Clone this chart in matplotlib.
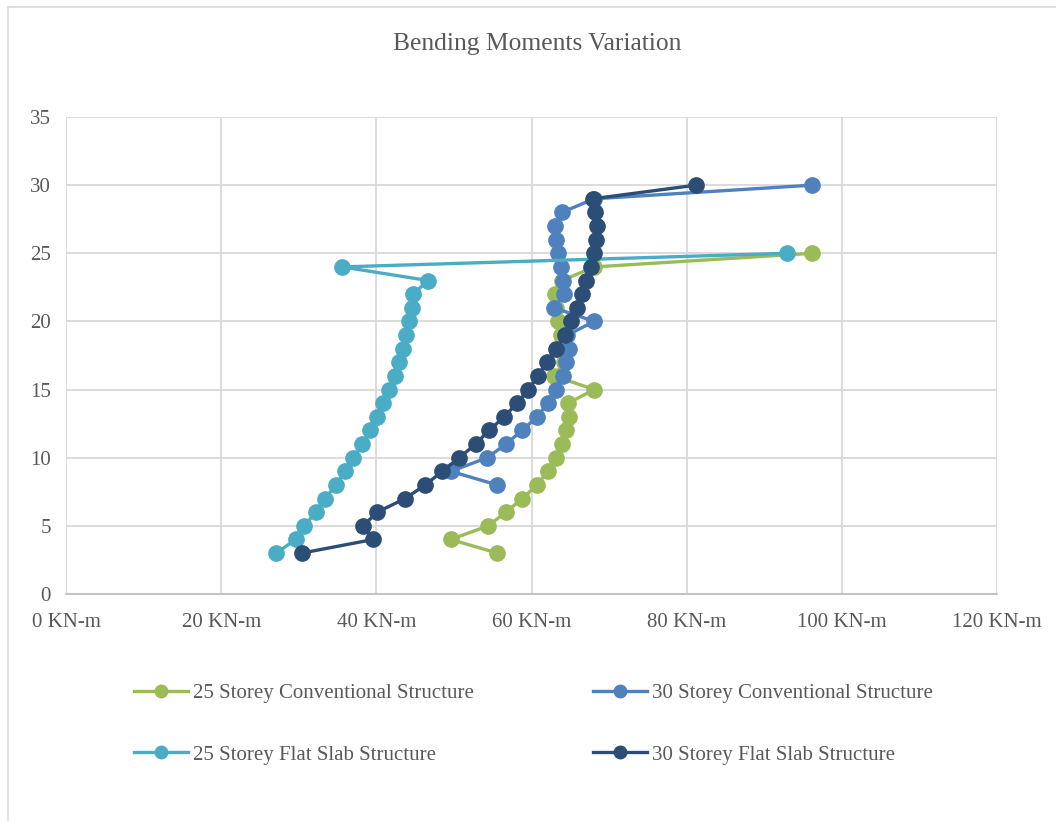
import matplotlib
matplotlib.use("Agg")
import matplotlib.pyplot as plt
from matplotlib.lines import Line2D
from matplotlib.patches import Rectangle

# ---- data ----
storey_25 = list(range(3, 26))
storey_30 = list(range(3, 31))
storey_30c = list(range(8, 31))

conv_25 = [55.6, 49.6, 54.4, 56.7, 58.8, 60.7, 62.1, 63.2, 63.9, 64.4, 64.8, 64.7,
           68.1, 62.9, 64.2, 64.1, 63.8, 63.4, 63.2, 63.0, 63.9, 68.1, 96.2]
conv_30 = [55.6, 49.6, 54.3, 56.7, 58.8, 60.7, 62.1, 63.2, 64.1, 64.5, 64.8, 64.6,
           68.1, 62.9, 64.2, 64.1, 63.8, 63.4, 63.2, 63.0, 63.9, 68.1, 96.2]
flat_25 = [27.1, 29.6, 30.7, 32.2, 33.4, 34.8, 36.0, 37.0, 38.2, 39.2, 40.1, 40.9,
           41.6, 42.4, 42.9, 43.4, 43.8, 44.2, 44.6, 44.7, 46.7, 35.6, 92.9]
flat_30 = [30.4, 39.6, 38.3, 40.1, 43.7, 46.3, 48.5, 50.7, 52.8, 54.5, 56.5, 58.1,
           59.6, 60.8, 62.0, 63.2, 64.3, 65.1, 65.9, 66.5, 67.0, 67.7, 68.1, 68.3,
           68.4, 68.2, 67.9, 81.2]

labels = ["25 Storey Conventional Structure", "30 Storey Conventional Structure",
          "25 Storey Flat Slab Structure", "30 Storey Flat Slab Structure"]
x_ticks = [0, 20, 40, 60, 80, 100, 120]
x_ticklabels = [f"{v} KN-m" for v in x_ticks]
y_ticks = [0, 5, 10, 15, 20, 25, 30, 35]

colors = {"c25": "#9BBB59", "c30": "#4F81BD", "f25": "#4BACC6", "f30": "#2C4D75"}

plt.rcParams['font.family'] = ['Liberation Serif', 'DejaVu Serif']
text_col = "#595959"

W, H = 1056, 821
fig = plt.figure(figsize=(W / 100, H / 100), dpi=100)
fig.patch.set_facecolor("white")

# outer chart border (left and top visible)
fig.add_artist(Rectangle((8 / W, -0.1), 1.2, 1 - 7 / H + 0.1, transform=fig.transFigure,
                         fill=False, edgecolor="#D9D9D9", linewidth=1.2))

left, right, top, bottom = 66, 997, 117, 594
ax = fig.add_axes([left / W, 1 - bottom / H, (right - left) / W, (bottom - top) / H])

lw, ms = 2.4, 11
ax.plot(conv_25, storey_25, color=colors["c25"], lw=lw, marker="o", ms=ms, zorder=3)
ax.plot(conv_30, storey_30c, color=colors["c30"], lw=lw, marker="o", ms=ms, zorder=4)
ax.plot(flat_25, storey_25, color=colors["f25"], lw=lw, marker="o", ms=ms, zorder=5)
ax.plot(flat_30, storey_30, color=colors["f30"], lw=lw, marker="o", ms=ms, zorder=6)

ax.set_xlim(0, 120)
ax.set_ylim(0, 35)
ax.set_xticks(x_ticks)
ax.set_xticklabels(x_ticklabels)
ax.set_yticks(y_ticks)
ax.grid(True, color="#D9D9D9", linewidth=1.3)
ax.set_axisbelow(True)
for s in ["top", "right", "left"]:
    ax.spines[s].set_visible(False)
ax.spines["bottom"].set_color("#BFBFBF")
ax.spines["bottom"].set_linewidth(1.3)
ax.tick_params(axis="both", length=0, labelsize=15, colors=text_col)
ax.tick_params(axis="x", pad=14)
ax.tick_params(axis="y", pad=11)

fig.text(537 / W, 1 - 44 / H, "Bending Moments Variation", ha="center", va="center",
         fontsize=18.4, color=text_col)

def handle(c):
    return Line2D([], [], color=c, lw=lw, marker="o", ms=9)

leg = fig.legend([handle(colors["c25"]), handle(colors["f25"]), handle(colors["c30"]), handle(colors["f30"])],
                 [labels[0], labels[2], labels[1], labels[3]],
                 ncol=2, loc="upper left", bbox_to_anchor=(115 / W, 1 - 665 / H),
                 frameon=False, fontsize=15, handlelength=2.6, handletextpad=0.24,
                 labelspacing=2.0, columnspacing=5.7, labelcolor=text_col)

fig.savefig("out.png", dpi=100, facecolor="white")
